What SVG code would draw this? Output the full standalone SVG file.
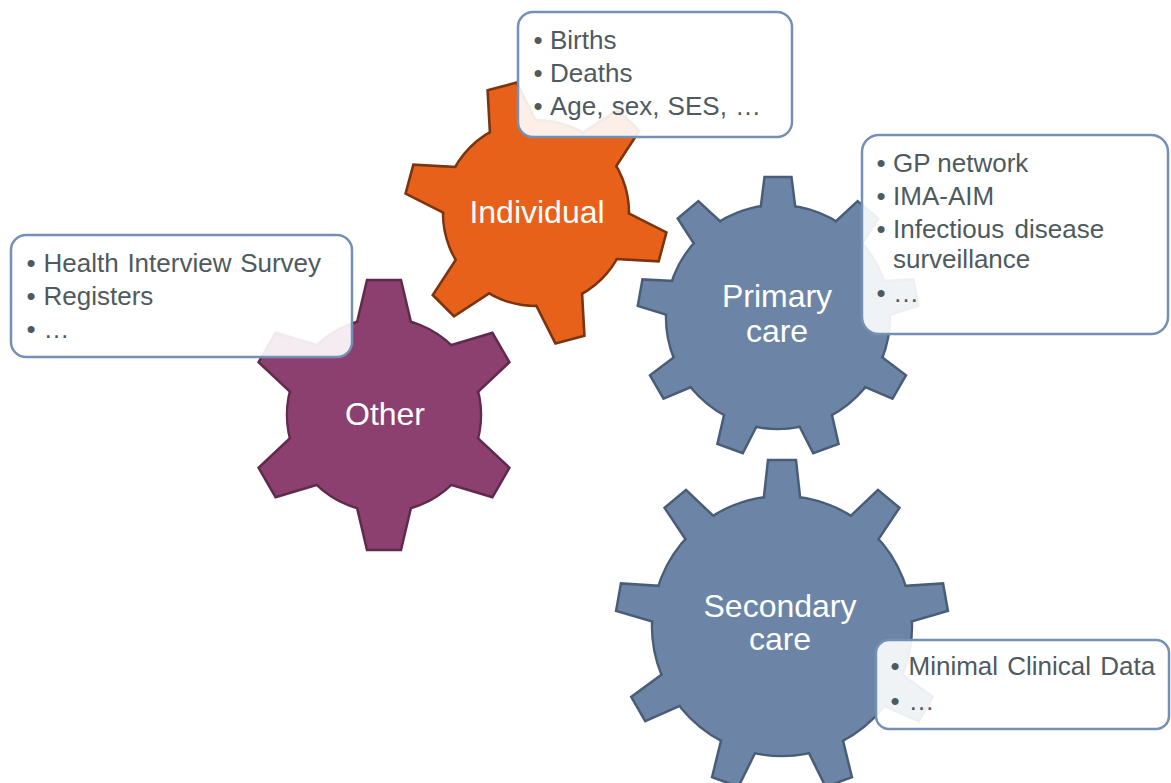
<svg xmlns="http://www.w3.org/2000/svg" xmlns:xlink="http://www.w3.org/1999/xlink" width="1171" height="783" viewBox="0 0 1171 783">
<style>
.lbl{font-family:"Liberation Sans",Arial,sans-serif;font-size:32px;fill:#ffffff;text-anchor:middle}
.txt{font-family:"Liberation Sans",Arial,sans-serif;font-size:26px;fill:#4E5A5E}
.bul{text-anchor:middle}
.box{fill:#ffffff;fill-opacity:0.9;stroke:#7490B5;stroke-width:2.5}
.g-orange{fill:#E8611A;stroke:#7A3510;stroke-width:2.6;stroke-linejoin:miter}
.g-purple{fill:#8C406F;stroke:#602A4D;stroke-width:2.5;stroke-linejoin:miter}
.g-blue{fill:#6C85A7;stroke:#4A5D78;stroke-width:2.5;stroke-linejoin:miter}
.c-orange{fill:#E8611A}
.c-purple{fill:#8C406F}
.c-blue{fill:#6C85A7}
</style>
<defs>
<polygon id="tInd" points="-25.5,-81 -15,-131 15,-131 25.5,-81"/>
<polygon id="tOth" points="-28.8,-85 -17,-135 17,-135 28.8,-85"/>
<polygon id="tPri" points="-18.5,-100 -13.5,-140 13.5,-140 18.5,-100"/>
<polygon id="tSec" points="-19.3,-118 -14,-166 14,-166 19.3,-118"/>
</defs>

<g id="gear-individual" transform="translate(536,213)">
  <g class="g-orange">
    <circle r="93"/>
    <use xlink:href="#tInd" transform="rotate(-15)"/>
    <use xlink:href="#tInd" transform="rotate(45)"/>
    <use xlink:href="#tInd" transform="rotate(105)"/>
    <use xlink:href="#tInd" transform="rotate(165)"/>
    <use xlink:href="#tInd" transform="rotate(225)"/>
    <use xlink:href="#tInd" transform="rotate(285)"/>
  </g>
  <circle class="c-orange" r="91.6"/>
  <text class="lbl" x="1" y="10">Individual</text>
</g>

<g id="gear-other" transform="translate(384,415)">
  <g class="g-purple">
    <circle r="97"/>
    <use xlink:href="#tOth" transform="rotate(0)"/>
    <use xlink:href="#tOth" transform="rotate(60)"/>
    <use xlink:href="#tOth" transform="rotate(120)"/>
    <use xlink:href="#tOth" transform="rotate(180)"/>
    <use xlink:href="#tOth" transform="rotate(240)"/>
    <use xlink:href="#tOth" transform="rotate(300)"/>
  </g>
  <circle class="c-purple" r="95.7"/>
  <text class="lbl" x="1" y="10">Other</text>
</g>

<g id="gear-primary" transform="translate(778,317)">
  <g class="g-blue">
    <circle r="112"/>
    <use xlink:href="#tPri" transform="rotate(0)"/>
    <use xlink:href="#tPri" transform="rotate(40)"/>
    <use xlink:href="#tPri" transform="rotate(80)"/>
    <use xlink:href="#tPri" transform="rotate(120)"/>
    <use xlink:href="#tPri" transform="rotate(160)"/>
    <use xlink:href="#tPri" transform="rotate(200)"/>
    <use xlink:href="#tPri" transform="rotate(240)"/>
    <use xlink:href="#tPri" transform="rotate(280)"/>
    <use xlink:href="#tPri" transform="rotate(320)"/>
  </g>
  <circle class="c-blue" r="110.7"/>
  <text class="lbl" x="-1" y="-10">Primary</text>
  <text class="lbl" x="-1" y="25">care</text>
</g>

<g id="gear-secondary" transform="translate(782,626)">
  <g class="g-blue">
    <circle r="130"/>
    <use xlink:href="#tSec" transform="rotate(0)"/>
    <use xlink:href="#tSec" transform="rotate(40)"/>
    <use xlink:href="#tSec" transform="rotate(80)"/>
    <use xlink:href="#tSec" transform="rotate(120)"/>
    <use xlink:href="#tSec" transform="rotate(160)"/>
    <use xlink:href="#tSec" transform="rotate(200)"/>
    <use xlink:href="#tSec" transform="rotate(240)"/>
    <use xlink:href="#tSec" transform="rotate(280)"/>
    <use xlink:href="#tSec" transform="rotate(320)"/>
  </g>
  <circle class="c-blue" r="128.7"/>
  <text class="lbl" x="-2" y="-9">Secondary</text>
  <text class="lbl" x="-2" y="24">care</text>
</g>

<g id="connectors"></g>

<g id="callout-individual">
  <rect class="box" x="518" y="12" width="274" height="125" rx="15" ry="15"/>
  <text class="txt bul" x="538" y="49">•</text>
  <text class="txt" x="550" y="49">Births</text>
  <text class="txt bul" x="538" y="82">•</text>
  <text class="txt" x="550" y="82">Deaths</text>
  <text class="txt bul" x="538" y="115">•</text>
  <text class="txt" x="550" y="115" word-spacing="1">Age, sex, SES, …</text>
</g>

<g id="callout-primary">
  <rect class="box" x="862" y="135" width="306" height="199" rx="17" ry="17"/>
  <text class="txt bul" x="881" y="171.5">•</text>
  <text class="txt" x="893" y="171.5">GP network</text>
  <text class="txt bul" x="881" y="205">•</text>
  <text class="txt" x="893" y="205">IMA-AIM</text>
  <text class="txt bul" x="881" y="238">•</text>
  <text class="txt" x="893" y="238" word-spacing="3">Infectious disease</text>
  <text class="txt" x="893" y="268">surveillance</text>
  <text class="txt bul" x="881" y="301.5">•</text>
  <text class="txt" x="893" y="301.5">…</text>
</g>

<g id="callout-other">
  <rect class="box" x="11" y="235" width="341" height="122" rx="15" ry="15"/>
  <text class="txt bul" x="31" y="272">•</text>
  <text class="txt" x="43.5" y="272" word-spacing="1.5">Health Interview Survey</text>
  <text class="txt bul" x="31" y="305">•</text>
  <text class="txt" x="43.5" y="305">Registers</text>
  <text class="txt bul" x="31" y="338">•</text>
  <text class="txt" x="43.5" y="338">…</text>
</g>

<g id="callout-secondary">
  <rect class="box" x="876" y="640" width="293" height="89" rx="13" ry="13"/>
  <text class="txt bul" x="895" y="675">•</text>
  <text class="txt" x="908.5" y="675" word-spacing="2">Minimal Clinical Data</text>
  <text class="txt bul" x="895" y="710">•</text>
  <text class="txt" x="908.5" y="710">…</text>
</g>
</svg>
